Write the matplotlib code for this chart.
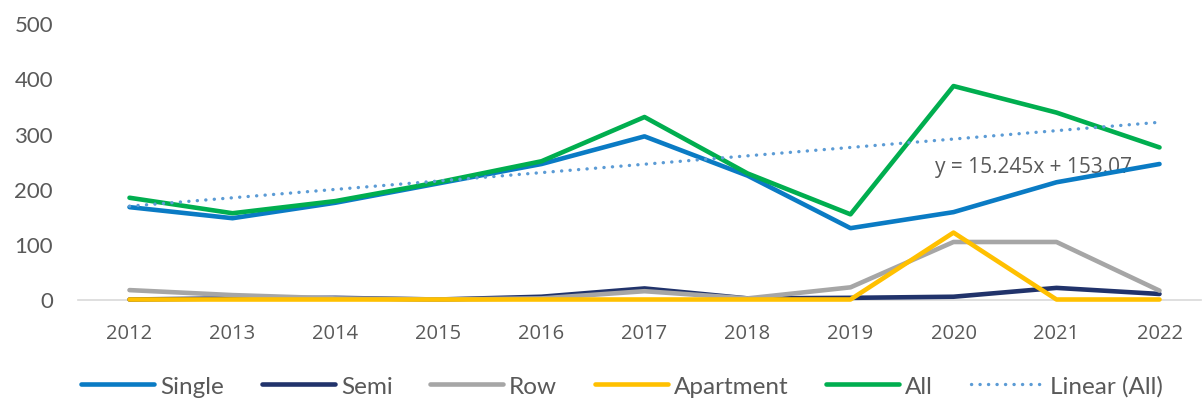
import matplotlib
matplotlib.use("Agg")
import matplotlib.pyplot as plt
import numpy as np

years = [2012, 2013, 2014, 2015, 2016, 2017, 2018, 2019, 2020, 2021, 2022]
single = [167, 147, 175, 210, 245, 295, 224, 129, 158, 212, 245]
semi = [0, 2, 3, 0, 5, 20, 2, 3, 5, 21, 10]
row = [17, 8, 2, 0, 2, 15, 2, 22, 104, 104, 16]
apartment = [0, 0, 0, 0, 0, 0, 0, 0, 121, 0, 0]
all_types = [184, 156, 178, 212, 250, 330, 228, 154, 386, 338, 275]
y_ticks = [0, 100, 200, 300, 400, 500]

series = [
    ("Single", single, "#0A7BC4"),
    ("Semi", semi, "#21336B"),
    ("Row", row, "#A6A6A6"),
    ("Apartment", apartment, "#FFC000"),
    ("All", all_types, "#00AE4F"),
]

fig = plt.figure(figsize=(12.04, 4.02), dpi=100)
W, H = 1204, 402
left, right = 78, 1201
bottom_px, top_px = 300.5, 24
ax = fig.add_axes([left / W, (H - bottom_px) / H, (right - left) / W, (bottom_px - top_px) / H])

for name, vals, col in series:
    ax.plot(years, vals, color=col, lw=3.3, solid_capstyle="round",
            solid_joinstyle="round", label=name, clip_on=False, zorder=3)

# Linear trend of All
xi = np.arange(1, len(years) + 1)
coef = np.polyfit(xi, all_types, 1)
trend = np.polyval(coef, xi)
ax.plot(years, trend, color="#5B9BD5", lw=2.4, linestyle=(0, (0.05, 2.5)),
        dash_capstyle="round", label="Linear (All)", zorder=4)

ax.text(2020.78, 240, "y = 15.245x + 153.07", fontsize=15, family="Open Sans",
        color="#595959", ha="center", va="center", zorder=2)

ax.set_xlim(2011.5, 2011.5 + (right - left) / 103.0)
ax.set_ylim(0, 500)
ax.set_xticks(years)
ax.set_xticklabels([str(y) for y in years], family="Open Sans", fontsize=14.5, color="#595959")
ax.set_yticks(y_ticks)
ax.set_yticklabels([str(v) for v in y_ticks], family="Lato", fontsize=16, color="#595959")
ax.tick_params(axis="both", length=0)
ax.tick_params(axis="x", pad=17)
ax.tick_params(axis="y", pad=18)
for s in ["top", "right", "left"]:
    ax.spines[s].set_visible(False)
ax.spines["bottom"].set_color("#D9D9D9")
ax.spines["bottom"].set_linewidth(1.2)
ax.spines["bottom"].set_zorder(1)

handles, labels = ax.get_legend_handles_labels()
leg = fig.legend(handles, labels, loc="center", bbox_to_anchor=(622 / W, 1 - 387 / H),
                 ncol=6, frameon=False, handlelength=3.0, handletextpad=0.25,
                 columnspacing=1.55,
                 prop={"family": "Lato", "size": 17.5})
for t in leg.get_texts():
    t.set_color("#595959")

fig.savefig("out.png", dpi=100)
